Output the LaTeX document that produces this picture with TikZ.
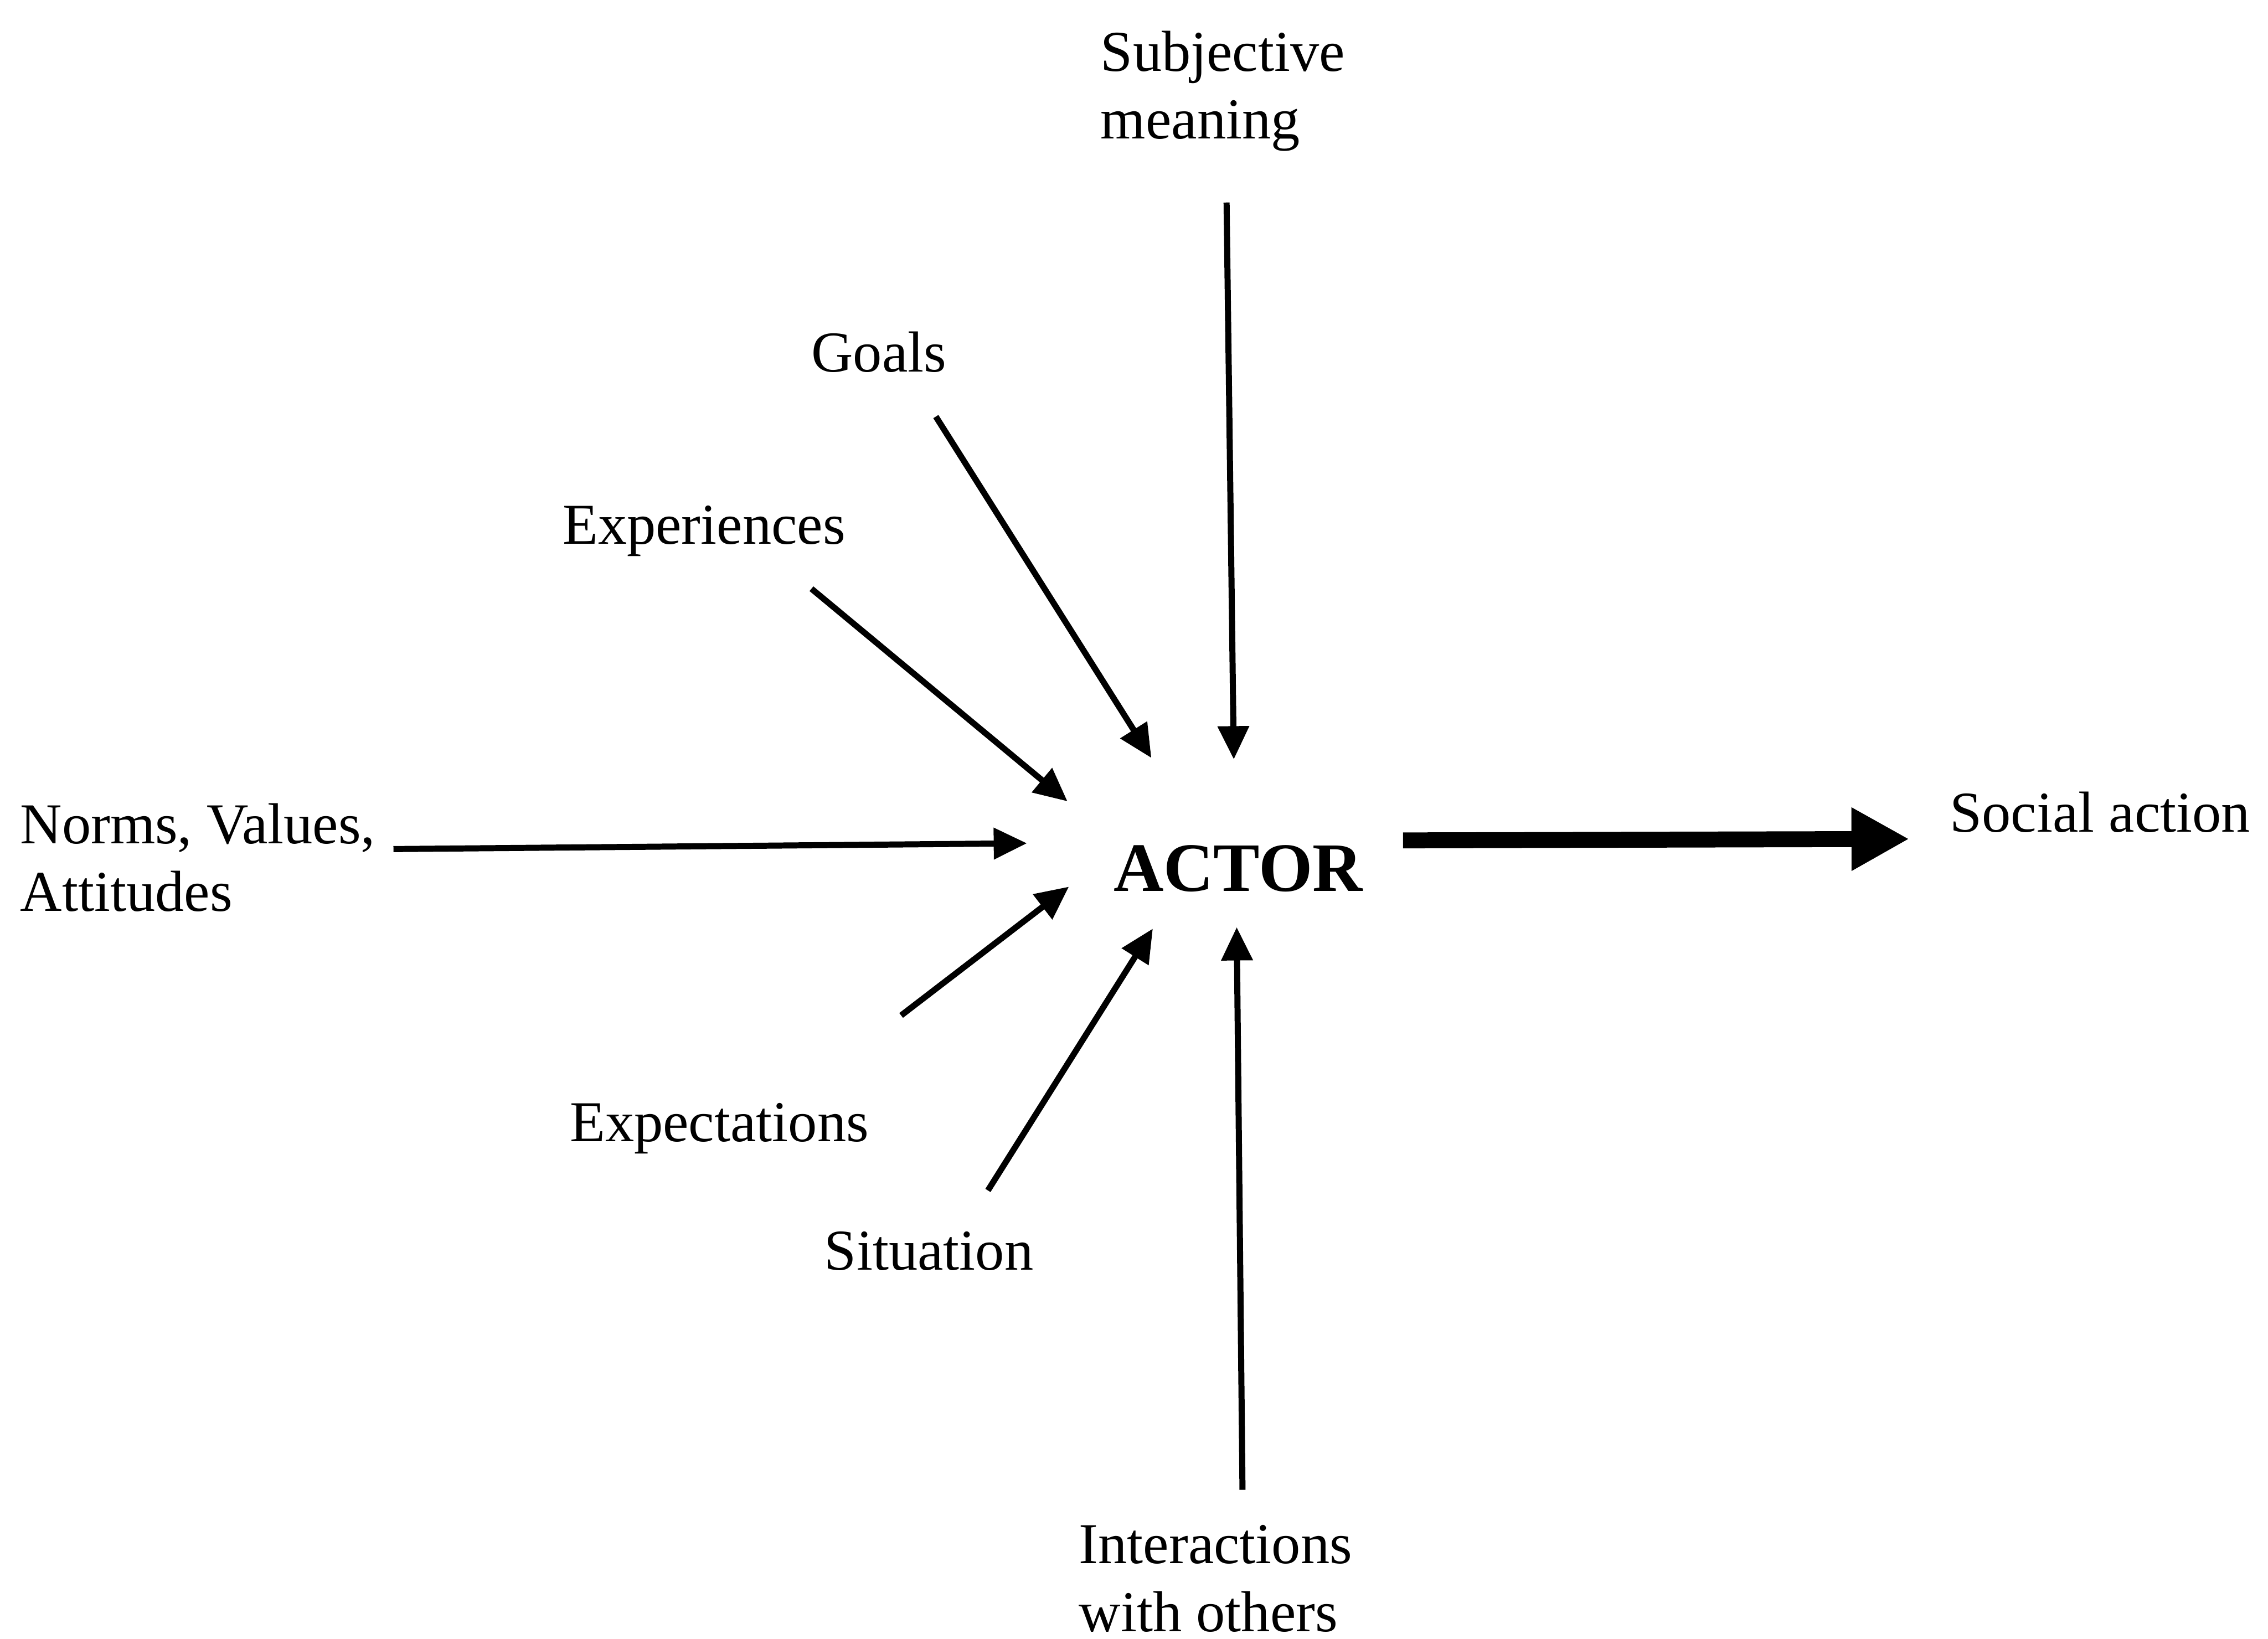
\documentclass[tikz,border=0pt]{standalone}
\usepackage{fontspec}
\setmainfont{Liberation Serif}
\usetikzlibrary{arrows.meta}
\begin{document}
\begin{tikzpicture}[x=0.25mm,y=-0.25mm,
  lbl/.style={inner sep=0pt,outer sep=0pt,font=\fontsize{28.45}{33.4}\selectfont},
  infl/.style={line width=1.05mm,-{Triangle[length=5.75mm,width=5.25mm]}},
  outflow/.style={line width=2.75mm,-{Triangle[length=10mm,width=10.25mm]}}]
\useasboundingbox (0,0) rectangle (1568,1133);

% labels (multi-line labels are placed by the baseline of their last line)
\node[lbl,anchor=base west,align=left] (subj) at (761,96) {Subjective\\meaning};
\node[lbl,anchor=base west] (goals) at (561,257) {Goals};
\node[lbl,anchor=base west] (exper) at (389,376) {Experiences};
\node[lbl,anchor=base west,align=left] (norms) at (14,630) {Norms, Values,\\Attitudes};
\node[inner sep=0pt,anchor=base,font=\bfseries\fontsize{34.1}{40}\selectfont] (actor) at (856,616) {ACTOR};
\node[lbl,anchor=base west] (social) at (1348,575) {Social action};
\node[lbl,anchor=base west] (expect) at (394,789) {Expectations};
\node[lbl,anchor=base west] (situ) at (570,878) {Situation};
\node[lbl,anchor=base west,align=left] (inter) at (746,1128) {Interactions\\with others};

% connector ends
\coordinate (subjS) at (848,140);   \coordinate (subjE) at (853,525);
\coordinate (goalS) at (647,288);   \coordinate (goalE) at (796,524);
\coordinate (expS)  at (561,407);   \coordinate (expE)  at (738,554);
\coordinate (normS) at (272,587);   \coordinate (normE) at (710,583);
\coordinate (expcS) at (623,702);   \coordinate (expcE) at (739,613);
\coordinate (sitS)  at (683,823);   \coordinate (sitE)  at (797,642);
\coordinate (intS)  at (859,1030);  \coordinate (intE)  at (855,641);
\coordinate (actS)  at (970,581);   \coordinate (actE)  at (1320,580);

% influences on the actor
\draw[infl] (subjS) -- (subjE);
\draw[infl] (goalS) -- (goalE);
\draw[infl] (expS) -- (expE);
\draw[infl] (normS) -- (normE);
\draw[infl] (expcS) -- (expcE);
\draw[infl] (sitS) -- (sitE);
\draw[infl] (intS) -- (intE);

% resulting action
\draw[outflow] (actS) -- (actE);
\end{tikzpicture}
\end{document}
